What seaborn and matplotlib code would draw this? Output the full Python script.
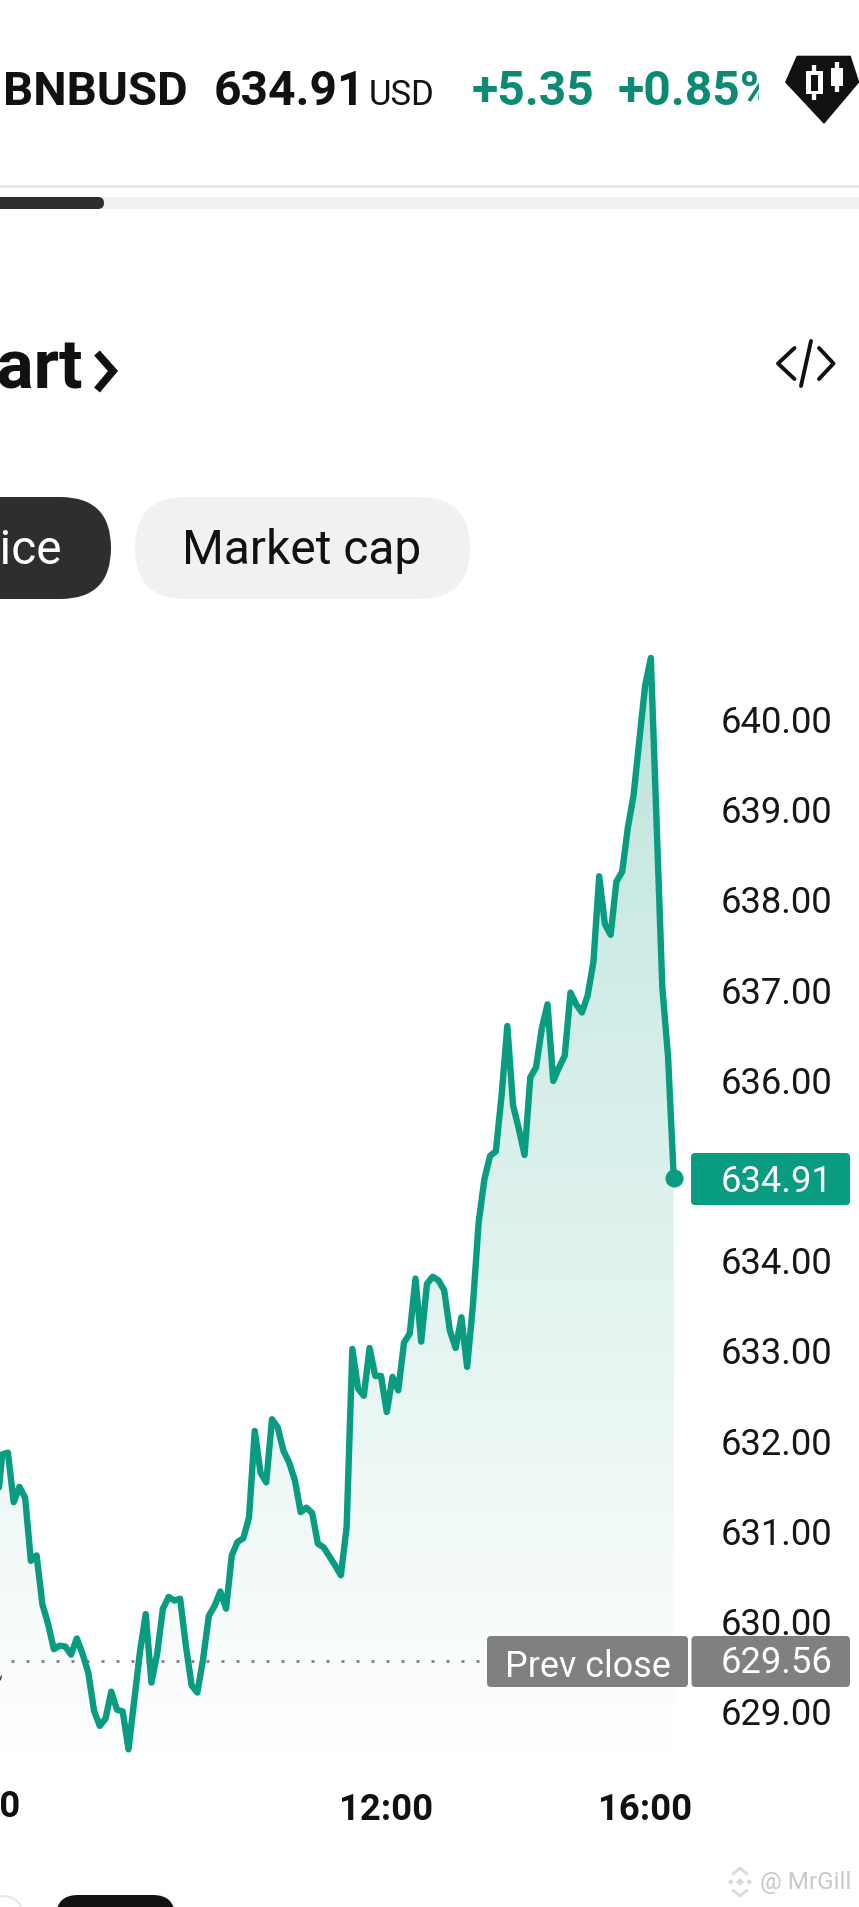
import numpy as np
import seaborn as sns
import matplotlib.pyplot as plt
from matplotlib.patches import Rectangle, FancyBboxPatch, Polygon
from matplotlib.transforms import ScaledTranslation

# BNB/USD price
prices = [631.19, 631.85, 631.87, 631.32, 631.49, 631.37, 630.67, 630.73, 630.19, 629.97,
          629.69, 629.73, 629.72, 629.63, 629.81, 629.64, 629.43, 629.01, 628.84, 628.92,
          629.22, 629.02, 629.00, 628.58, 629.12, 629.66, 630.08, 629.32, 629.64, 630.14,
          630.27, 630.23, 630.25, 629.73, 629.29, 629.21, 629.58, 630.06, 630.17, 630.33,
          630.14, 630.73, 630.88, 630.92, 631.15, 632.11, 631.65, 631.54, 632.24, 632.15,
          631.89, 631.76, 631.56, 631.21, 631.26, 631.20, 630.86, 630.82, 630.72, 630.62,
          630.51, 631.04, 633.02, 632.58, 632.50, 633.03, 632.72, 632.72, 632.32, 632.71,
          632.56, 633.09, 633.19, 633.80, 633.10, 633.74, 633.82, 633.78, 633.67, 633.22,
          633.03, 633.37, 632.82, 633.50, 634.42, 634.90, 635.16, 635.21, 635.83, 636.60,
          635.72, 635.46, 635.17, 636.03, 636.14, 636.57, 636.84, 635.99, 636.14, 636.27,
          636.97, 636.84, 636.75, 636.94, 637.31, 638.26, 637.73, 637.61, 638.20, 638.31,
          638.80, 639.16, 639.77, 640.37, 640.68, 638.86, 637.03, 636.26, 634.91]
y_ticks = [629, 630, 631, 632, 633, 634, 636, 637, 638, 639, 640]
time_labels = ['12:00', '16:00']
time_slots = [67.9, 113.0]
last_price = 634.91
prev_close = 629.56

GREEN = '#0a9c80'
W, H = 859, 1908
sns.set_style('white')
plt.rcParams['font.family'] = ['Roboto', 'DejaVu Sans']

fig = plt.figure(figsize=(W / 100, H / 100), dpi=100, facecolor='white')

# chart axes, placed in screenshot pixels
left, right, top, bottom = 0, 715, 620, 1785
ax = fig.add_axes([left / W, 1 - bottom / H, (right - left) / W, (bottom - top) / H])
ax.patch.set_alpha(0)
slots = np.arange(len(prices))

# gradient under the line
under = ax.fill_between(slots, prices, 628.35, color='none')
grad = np.linspace(0, 1, 256).reshape(-1, 1)
rgba = np.zeros((256, 1, 4))
rgba[..., :3] = [0.04, 0.61, 0.50]
rgba[..., 3] = 0.27 * (1 - grad)
img = ax.imshow(rgba, extent=[0, 124.98, 628.35, 640.68], aspect='auto', zorder=1)
img.set_clip_path(under.get_paths()[0], transform=ax.transData)
ax.set_xlim(0.62, 125.18)
ax.set_ylim(628.196, 641.112)

sns.lineplot(x=slots, y=prices, ax=ax, color=GREEN, linewidth=4.6, zorder=3, errorbar=None, sort=False)
ax.plot(slots[-1], prices[-1], 'o', color=GREEN, ms=13, mew=0, zorder=4)
ax.plot([2.5, 85], [prev_close, prev_close], color='#8a8a8a', lw=2.16,
        linestyle=(0, (1, 4)), zorder=2)

ax.yaxis.tick_right()
ax.set_yticks(y_ticks)
ax.set_yticklabels([f'{v:.2f}' for v in y_ticks], fontsize=26.2, color='#161616', va='center_baseline')
ax.set_xticks(time_slots)
ax.set_xticklabels(time_labels, fontsize=26.3, fontweight='bold', color='#111111')
ax.tick_params(axis='y', length=0, pad=3.8)
ax.tick_params(axis='x', length=0, pad=5)
# price labels sit a pixel above their grid position
nudge = ScaledTranslation(0, 1.2 / 100, fig.dpi_scale_trans)
for lab in ax.get_yticklabels():
    lab.set_transform(lab.get_transform() + nudge)
sns.despine(ax=ax, left=True, right=True, top=True, bottom=True)

# everything else of the app screen lives on an overlay in pixel coordinates
ui = fig.add_axes([0, 0, 1, 1], zorder=5)
ui.set_xlim(0, W)
ui.set_ylim(H, 0)
ui.axis('off')
ui.patch.set_alpha(0)


def pill(x0, y0, x1, y1, r, color, z=2, ec='none', lw=0):
    ui.add_patch(FancyBboxPatch((x0 + r, y0 + r), x1 - x0 - 2 * r, y1 - y0 - 2 * r,
                                boxstyle=f'round,pad={r},rounding_size={r}',
                                fc=color, ec=ec, lw=lw, zorder=z))


ink = '#111111'
ui.text(3, 105, 'BNBUSD', fontsize=34, fontweight='bold', color=ink, va='baseline')
ui.text(214, 105, '634.91', fontsize=34.5, fontweight='bold', color=ink, va='baseline')
ui.text(369, 105, 'USD', fontsize=25, color=ink, va='baseline')
ui.text(472, 105, '+5.35', fontsize=34.5, fontweight='bold', color='#0e8a74', va='baseline')
ui.text(618, 105, '+0.85%', fontsize=34.5, fontweight='bold', color='#0e8a74', va='baseline', zorder=1)
ui.add_patch(Rectangle((759, 40), 100, 100, fc='white', ec='none', zorder=2))

# candle badge
ui.add_patch(Polygon([(796.7, 56.7), (850.7, 56.7), (859.3, 83.3), (824, 125), (785, 83.3)],
                     fc='#111111', ec='none', zorder=3))
for cx, y0, y1, bx0, bx1, by0, by1 in [(814.3, 66, 101, 805.7, 823.3, 72.3, 95),
                                       (837, 63.3, 92.7, 830.7, 843.3, 69.3, 86.7)]:
    ui.plot([cx, cx], [y0, y1], color='white', lw=3.1, zorder=4, solid_capstyle='butt')
    ui.add_patch(Rectangle((bx0, by0), bx1 - bx0, by1 - by0, fc='white', ec='none', zorder=4))
ui.add_patch(Rectangle((810.7, 76), 7.6, 15.7, fc='#111111', ec='none', zorder=5))

ui.add_patch(Rectangle((0, 186), W, 3, fc='#e9e9e9', ec='none'))
ui.add_patch(Rectangle((0, 198), W, 12, fc='#f1f1f1', ec='none'))
pill(-20, 198, 104, 210, 6, '#2e2e2e')

ui.text(83, 388, 'Chart', fontsize=50, fontweight='bold', color=ink, ha='right', va='baseline')
ui.plot([97, 113, 97], [354, 372, 391], color=ink, lw=5.5, solid_joinstyle='miter', solid_capstyle='butt')

for xs, ys in [([794.5, 778, 794.5], [349, 364.5, 380]),
               ([811, 801], [342, 387]),
               ([819, 833.5, 819], [349, 364.5, 380])]:
    ui.plot(xs, ys, color=ink, lw=2.8, solid_capstyle='round')

pill(-60, 498, 111, 600, 51, '#2e2e2e')
ui.text(62, 551, 'Price', fontsize=34.5, color='white', ha='right', va='center')
pill(135, 498, 470, 600, 51, '#f1f1f1')
ui.text(302, 551, 'Market cap', fontsize=34.5, color=ink, ha='center', va='center')

# price labels
pill(691, 1154, 850, 1206, 4, GREEN)
ui.text(776.5, 1182, f'{last_price:.2f}', fontsize=26.2, color='white', ha='center', va='center')
pill(487, 1637, 688, 1688, 4, '#808080')
ui.text(588, 1667, 'Prev close', fontsize=25.8, color='white', ha='center', va='center')
pill(691.5, 1637, 850, 1688, 4, '#808080')
ui.text(777, 1663, f'{prev_close:.2f}', fontsize=26.2, color='white', ha='center', va='center')

# cut-off time label at the left edge
ui.text(20, 1807, '06:00', fontsize=26.3, fontweight='bold', color=ink, ha='right', va='center')
ui.plot([0, 1.5], [1681, 1677], color='#333333', lw=1)

# bottom controls and watermark
pill(-40, 1897, 23, 1980, 22, 'white', ec='#e8e8e8', lw=1.6)
pill(56, 1896, 175, 1980, 22, '#111111')
ui.text(760, 1883, '@ MrGill', fontsize=17.5, color='#c6caca', va='center')
mark = '#d6dada'
for cx, cy, r in [(740, 1883, 4), (731, 1883, 3), (749, 1883, 3)]:
    ui.add_patch(Polygon([(cx, cy - r), (cx + r, cy), (cx, cy + r), (cx - r, cy)], fc=mark, ec='none'))
ui.plot([733, 740, 747], [1875, 1869, 1875], color=mark, lw=2)
ui.plot([733, 740, 747], [1891, 1897, 1891], color=mark, lw=2)

fig.savefig('out.png', dpi=100)
